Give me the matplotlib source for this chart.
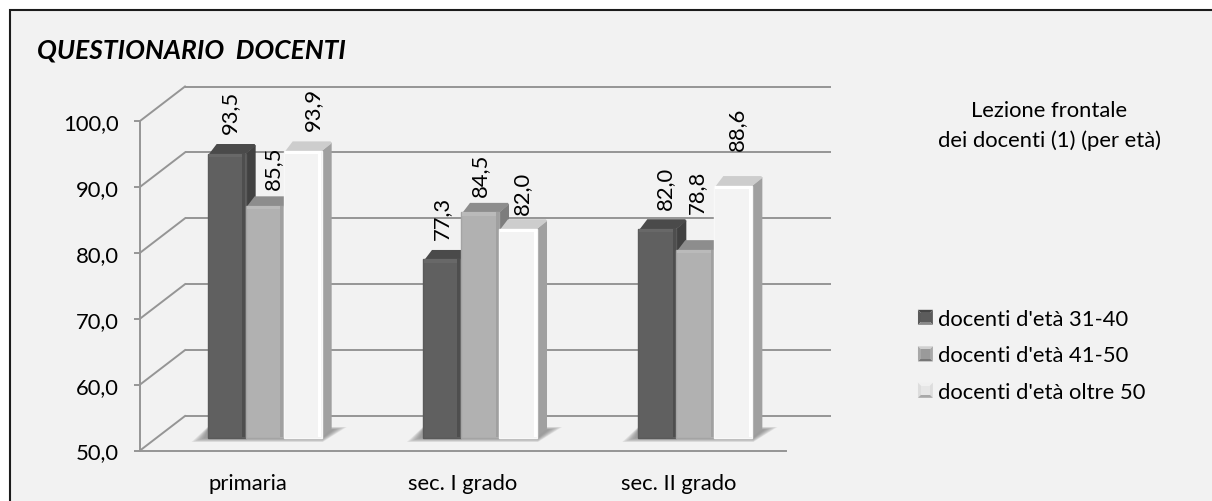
import matplotlib
matplotlib.use("Agg")
import matplotlib.pyplot as plt
from matplotlib.legend_handler import HandlerBase
from matplotlib.patches import Patch, Polygon, Rectangle
from matplotlib.transforms import Affine2D, IdentityTransform

plt.rcParams["font.family"] = ["Lato", "DejaVu Sans"]

# Survey values
categories = ["primaria", "sec. I grado", "sec. II grado"]
series_names = ["docenti d'età 31-40", "docenti d'età 41-50", "docenti d'età oltre 50"]
eta_31_40 = [93.5, 77.3, 82.0]
eta_41_50 = [85.5, 84.5, 78.8]
eta_oltre_50 = [93.9, 82.0, 88.6]
y_ticks = [50, 60, 70, 80, 90, 100]

# Bar shading: front, side, top, outline, top bevel, right bevel
shades = [
    ("#606060", "#414141", "#4a4a4a", "#5a5a5a", "#686868", "#4e4e4e"),
    ("#b1b1b1", "#7d7d7d", "#8d8d8d", "#a4a4a4", "#bababa", "#a0a0a0"),
    ("#f3f3f3", "#a0a0a0", "#cdcdcd", "#f8f8f8", "#ffffff", "#ffffff"),
]
# Pixel nudges for the rotated value labels, per series and group
label_dx = [[3, 0, 8], [8, 0, 2], [10, 4, 4]]
label_gap = [[11, 11, 10], [7, 7, 27], [11, 5, 26]]

W, H = 1212, 502
GRID = "#959595"
FS = 15.8
WALL_DX, WALL_DY = 45, 34.5
PLANE_DX, PLANE_DY = 17, 12.5
BAR_DX, BAR_DY = 10, 9.5
BAR_W = 0.1765
BAR_YSCALE = 0.9924

fig = plt.figure(figsize=(W / 100, H / 100), dpi=100, facecolor="white")
fig.add_artist(Rectangle((9.5, -20), W + 40, H - 10 + 20 - 0.5, transform=IdentityTransform(),
                         facecolor="#f2f2f2", edgecolor="#1c1c1c", linewidth=1.5, zorder=-5))

ax = fig.add_axes([140 / W, (H - 451.5) / H, 646 / W, 329.5 / H])
ax.patch.set_alpha(0)
ax.set_xlim(0, 3)
ax.set_ylim(50, 100)
fig.canvas.draw()

floor_y = ax.transData.transform((0, 50))[1]
plane = ax.transData + (Affine2D().translate(0, -floor_y).scale(1, BAR_YSCALE)
                        .translate(PLANE_DX, floor_y + PLANE_DY))
wall = ax.transData + Affine2D().translate(WALL_DX, WALL_DY)
ident = IdentityTransform()


def poly(points, color, z, alpha=None):
    ax.add_patch(Polygon(points, closed=True, transform=ident, facecolor=color, edgecolor="none",
                         alpha=alpha, zorder=z, clip_on=False))


# Back wall grid and the diagonal lines of the side wall
ax.hlines(y_ticks, 0, 3, transform=wall, colors=GRID, linewidth=1.4, zorder=1, clip_on=False)
for v in y_ticks:
    x0, y0 = ax.transData.transform((0, v))
    ax.plot([x0, x0 + WALL_DX], [y0, y0 + WALL_DY], transform=ident, color=GRID, linewidth=1.4,
            zorder=1, clip_on=False)

# Soft floor shadows under each group of bars
for i in range(len(categories)):
    xl, yb = plane.transform((i + 0.5 - 1.5 * BAR_W, 50))
    xr, _ = plane.transform((i + 0.5 + 1.5 * BAR_W, 50))
    for k in range(7):
        s = k * 2.0
        poly([(xl - 16 + s, yb - 4 + s * 0.3), (xr + 1, yb - 4 + s * 0.3), (xr + 25 - s, yb + 11 - s * 0.2),
              (xr, yb + 11 - s * 0.2), (xl, yb + 11 - s * 0.2)], "#6e6e6e", 2, alpha=0.13)

# Bars: front faces come from the axes, side and top faces follow their corners
for j, (values, shade) in enumerate(zip([eta_31_40, eta_41_50, eta_oltre_50], shades)):
    front, side, top, edge, top_bevel, right_bevel = shade
    z = 3 + j
    xs = [i + 0.5 + (j - 1) * BAR_W for i in range(len(categories))]
    heights = [v - 50 for v in values]
    bars = ax.bar(xs, heights, BAR_W, bottom=50, transform=plane, color=front, edgecolor=edge,
                  linewidth=1.0, zorder=z + 0.2, clip_on=False,
                  label=series_names[j])
    for b, v, dx, gap in zip(bars, values, label_dx[j], label_gap[j]):
        x = b.get_x()
        w = b.get_width()
        (x0, y0), (x1, y1) = plane.transform([(x, 50), (x + w, v)])
        poly([(x1 - 1, y0), (x1 + BAR_DX, y0 + BAR_DY), (x1 + BAR_DX, y1 + BAR_DY - 1),
              (x1 - 1, y1 - 1)], side, z)
        poly([(x0 + 1, y1 - 1), (x0 + BAR_DX - 1, y1 + BAR_DY), (x1 + BAR_DX - 1, y1 + BAR_DY),
              (x1 + BAR_DX, y1 + BAR_DY - 2), (x1 - 1, y1 - 1)], top, z + 0.1)
        # Lighter rim along the top and right of the front face
        poly([(x0 + 1, y1 - 3.5), (x1 - 1, y1 - 3.5), (x1 - 1, y1), (x0 + 1, y1)], top_bevel, z + 0.3)
        poly([(x1 - 3.5, y0 + 1), (x1 - 0.5, y0 + 1), (x1 - 0.5, y1), (x1 - 3.5, y1)], right_bevel, z + 0.3)
        ax.text(x + w / 2, v, f"{v:.1f}".replace(".", ","),
                transform=plane + Affine2D().translate(dx, BAR_DY + gap),
                rotation=90, ha="center", va="bottom", fontsize=FS, color="black",
                zorder=10, clip_on=False)

# Axes lines, ticks and labels
for name in ("top", "right"):
    ax.spines[name].set_visible(False)
for name in ("left", "bottom"):
    ax.spines[name].set_color(GRID)
    ax.spines[name].set_linewidth(1.4)
ax.set_yticks(y_ticks)
ax.set_yticklabels([f"{v:.1f}".replace(".", ",") for v in y_ticks], fontsize=FS)
ax.set_xticks([i + 0.5 for i in range(len(categories))])
ax.set_xticklabels(categories, fontsize=FS)
ax.tick_params(axis="y", length=4.3, width=1.4, color=GRID, pad=11)
ax.tick_params(axis="x", length=0, pad=16.5)


class BevelSwatch(HandlerBase):
    """Legend key drawn as a small bevelled square."""

    def create_artists(self, legend, orig, xdescent, ydescent, width, height, fontsize, trans):
        front = orig.get_facecolor()
        top, side, bottom = orig.bevel
        x0, y0, x1, y1 = -xdescent, -ydescent, width - xdescent, height - ydescent
        i = 2.2
        parts = [
            ([(x0, y1), (x1, y1), (x1 - i, y1 - i), (x0 + i, y1 - i)], top),
            ([(x0, y0), (x0, y1), (x0 + i, y1 - i), (x0 + i, y0 + i)], side),
            ([(x1, y0), (x1, y1), (x1 - i, y1 - i), (x1 - i, y0 + i)], side),
            ([(x0, y0), (x1, y0), (x1 - i, y0 + i), (x0 + i, y0 + i)], bottom),
            ([(x0 + i, y0 + i), (x1 - i, y0 + i), (x1 - i, y1 - i), (x0 + i, y1 - i)], front),
        ]
        return [Polygon(p, closed=True, facecolor=c, edgecolor="none", transform=trans) for p, c in parts]


handles = []
bevels = [("#454545", "#5a5a5a", "#8a8a8a"), ("#d0d0d0", "#a8a8a8", "#777777"), ("#f0f0f0", "#dddddd", "#a8a8a8")]
for name, fill, bevel in zip(series_names, ["#5c5c5c", "#9a9a9a", "#e6e6e6"], bevels):
    p = Patch(facecolor=fill, label=name)
    p.bevel = bevel
    handles.append(p)
fig.legend(handles=handles, handler_map={Patch: BevelSwatch()}, loc="center left",
           bbox_to_anchor=(907 / W, (H - 356.5) / H), frameon=False, fontsize=FS,
           handlelength=0.68, handleheight=0.68, handletextpad=0.22, labelspacing=0.75,
           borderpad=0, borderaxespad=0.5)

fig.text(37 / W, (H - 51) / H, "QUESTIONARIO  DOCENTI", fontsize=19, fontweight="bold",
         fontstyle="italic", ha="left", va="center", color="black")
fig.text(1049 / W, (H - 111) / H, "Lezione frontale", fontsize=FS, ha="center", va="center")
fig.text(1049 / W, (H - 141) / H, "dei docenti (1) (per età)", fontsize=FS, ha="center", va="center")

fig.savefig("out.png", dpi=100)
